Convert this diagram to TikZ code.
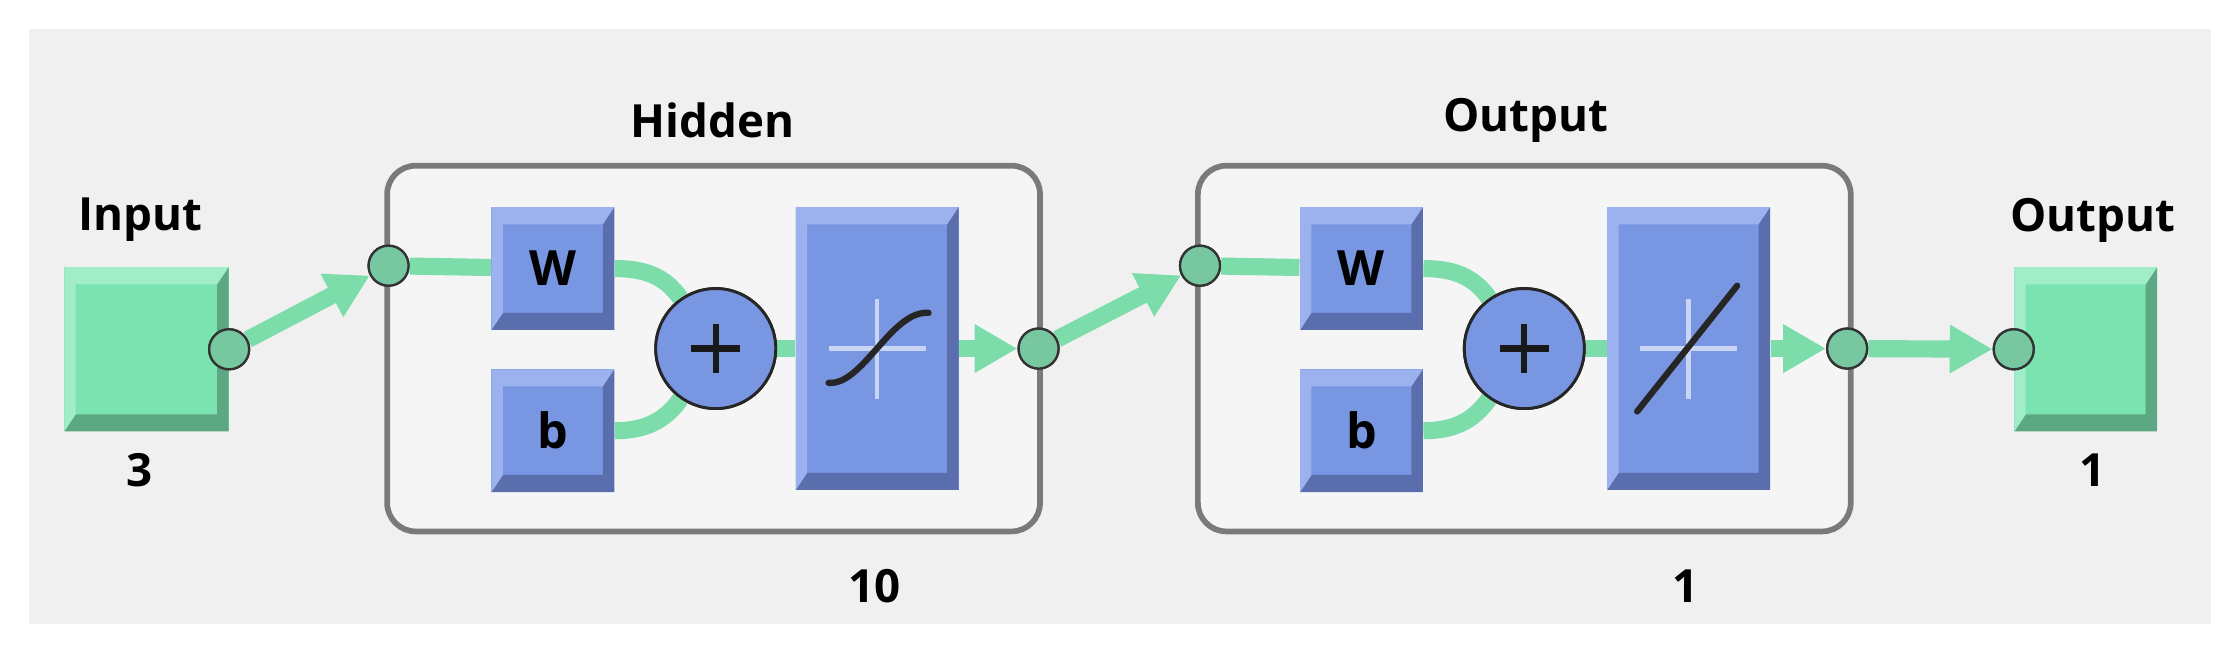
\documentclass[tikz,border=0pt]{standalone}
\usepackage{fontspec}
\setmainfont{Open Sans}
\usetikzlibrary{calc,arrows.meta}
\definecolor{bgg}{HTML}{F0F0F0}
\definecolor{lay}{HTML}{F5F5F5}
\definecolor{layedge}{HTML}{7A7A7A}
\definecolor{grn}{HTML}{7AE3B0}
\definecolor{grnd}{HTML}{5BA883}
\definecolor{grnl}{HTML}{A0EDC8}
\definecolor{wire}{HTML}{7CDCAA}
\definecolor{blu}{HTML}{7896E2}
\definecolor{blud}{HTML}{5A6EAE}
\definecolor{blul}{HTML}{9CB2EE}
\tikzset{
  bevel/.style n args={3}{fill=#1, path picture={
    \fill[#2] (path picture bounding box.south west) -- (path picture bounding box.south east) -- (path picture bounding box.north east)
      -- ([xshift=-4pt,yshift=-4pt]path picture bounding box.north east) -- ([xshift=-4pt,yshift=6pt]path picture bounding box.south east)
      -- ([xshift=4pt,yshift=6pt]path picture bounding box.south west) -- cycle;
    \fill[#3] (path picture bounding box.south west) -- (path picture bounding box.north west) -- (path picture bounding box.north east)
      -- ([xshift=-4pt,yshift=-6pt]path picture bounding box.north east) -- ([xshift=4pt,yshift=-6pt]path picture bounding box.north west)
      -- ([xshift=4pt,yshift=6pt]path picture bounding box.south west) -- cycle;}},
  gbox/.style={rectangle, inner sep=0pt, bevel={grn}{grnd}{grnl}},
  bbox/.style={rectangle, inner sep=0pt, bevel={blu}{blud}{blul}, font=\fontsize{17}{19}\bfseries},
  layer/.style={rectangle, rounded corners=10pt, draw=layedge, line width=2pt, fill=lay, minimum width=228.5pt, minimum height=128pt},
  dot/.style={circle, draw=black!80, line width=0.8pt, fill=grn!85!black!90, minimum size=14pt, inner sep=0pt},
  sum/.style={circle, draw=black!85, line width=1pt, fill=blu, minimum size=42pt, inner sep=0pt},
  lbl/.style={font=\fontsize{16}{18}\bfseries},
  wr/.style={draw=wire, line width=6pt},
  arr/.style={wr, -{Triangle[length=15pt,width=16pt]}},
}
\begin{document}
\begin{tikzpicture}[x=0.5pt,y=-0.5pt]
\useasboundingbox (0,0) rectangle (1568,459);
\fill[white] (0,0) rectangle (1568,459);
\fill[bgg] (20,20) rectangle (1548,437);
\node[layer] (L1) at (499.5,244) {};
\node[layer] (L2) at (1067,244) {};
% labels
\node[lbl] (tin) at (98,154) {Input};
\node[lbl] (n3) at (98,329) {3};
\node[lbl] (th) at (499,84) {Hidden};
\node[lbl] (n10) at (612,410) {10};
\node[lbl] (to) at (1068,84) {Output};
\node[lbl] (n1a) at (1180,410) {1};
\node[lbl] (tout) at (1465,154) {Output};
\node[lbl] (n1b) at (1465,329) {1};
% input / output boxes
\node[gbox, minimum width=57.5pt, minimum height=57.5pt] (inp) at (102.5,244.5) {};
\node[gbox, minimum width=50pt, minimum height=57.5pt] (outp) at (1460,244.5) {};
% layers
\node[bbox, minimum width=43pt, minimum height=43pt] (W1) at (387,188) {W};
\node[bbox, minimum width=43pt, minimum height=43pt] (b1) at (387,301.5) {b};
\node[bbox, minimum width=57pt, minimum height=99pt] (T1) at (614,244) {};
\node[bbox, minimum width=43pt, minimum height=43pt] (W2) at (953,188) {W};
\node[bbox, minimum width=43pt, minimum height=43pt] (b2) at (953,301.5) {b};
\node[bbox, minimum width=57pt, minimum height=99pt] (T2) at (1182,244) {};
% transfer glyphs
\draw[white!60!blu, line width=1.5pt] ($(T1)+(-34,0)$) -- ($(T1)+(34,0)$) ($(T1)+(0,-35)$) -- ($(T1)+(0,35)$);
\draw[black!85, line width=2.2pt, line cap=round] ($(T1)+(-34,24)$) .. controls ($(T1)+(-10,26)$) and ($(T1)+(10,-27)$) .. ($(T1)+(36,-25)$);
\draw[white!60!blu, line width=1.5pt] ($(T2)+(-34,0)$) -- ($(T2)+(34,0)$) ($(T2)+(0,-35)$) -- ($(T2)+(0,35)$);
\draw[black!85, line width=2.2pt, line cap=round] ($(T2)+(-36,44)$) -- ($(T2)+(34,-44)$);
% sums and dots
\node[sum] (S1) at (501,244) {};
\node[sum] (S2) at (1067,244) {};
\node[dot] (ic) at (inp.east) {};
\node[dot] (h1) at (272,186) {};
\node[dot] (h2) at (727,244) {};
\node[dot] (o1) at (840,186) {};
\node[dot] (o2) at (1293,244) {};
\node[dot] (oc) at (outp.west) {};
% connectors
\draw[arr] (ic) -- (h1);
\draw[wr] (h1) -- (W1);
\draw[wr] (W1.east) to[out=0,in=125] (S1);
\draw[wr] (b1.east) to[out=0,in=-125] (S1);
\draw[wr] (S1) -- (T1);
\draw[arr] (T1) -- (h2);
\draw[arr] (h2) -- (o1);
\draw[wr] (o1) -- (W2);
\draw[wr] (W2.east) to[out=0,in=125] (S2);
\draw[wr] (b2.east) to[out=0,in=-125] (S2);
\draw[wr] (S2) -- (T2);
\draw[arr] (T2) -- (o2);
\draw[arr] (o2) -- (oc);
% redraw dots and sums on top
\foreach \d in {ic,h1,h2,o1,o2,oc}{\node[dot] at (\d) {};}
\node[sum] at (S1) {};
\node[sum] at (S2) {};
\foreach \s in {S1,S2}{\draw[black!90, line width=2.2pt] ($(\s)+(-17,0)$) -- ($(\s)+(17,0)$) ($(\s)+(0,-17)$) -- ($(\s)+(0,17)$);}
\end{tikzpicture}
\end{document}
